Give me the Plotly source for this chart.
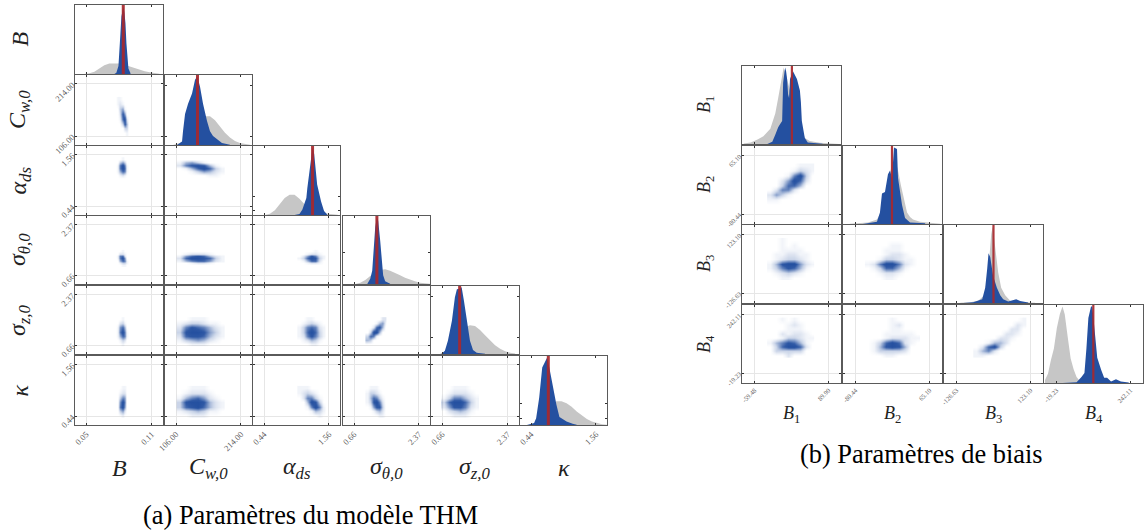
import plotly.graph_objects as go

W, H = 1146, 531
BLUE = "#2450A0"
GRAY = "#C6C6C6"
RED = "rgba(168,40,45,0.92)"
FRAME = "#5A5A5A"
GRID = "#E6E6E6"
CS = [[0, "rgba(36,80,160,0)"], [0.11, "rgba(36,80,160,0.06)"], [0.33, "rgba(36,80,160,0.24)"],
      [0.66, "rgba(36,80,160,0.70)"], [0.85, "rgba(36,80,160,0.95)"], [1, "rgba(36,80,160,1)"]]

# ---------- THM model parameters ----------
thm_names = ["<i>B</i>", "<i>C</i><sub><i>w,0</i></sub>", "<i>α</i><sub><i>ds</i></sub>",
             "<i>σ</i><sub><i>θ,0</i></sub>", "<i>σ</i><sub><i>z,0</i></sub>", "<i>κ</i>"]
thm_ticks = [(0.05, 0.11), (106.0, 214.0), (0.44, 1.56), (0.66, 2.37), (0.66, 2.37), (0.44, 1.56)]
thm_true = [0.0839, 141.7, 1.277, 1.262, 1.115, 0.738]
thm_diag_yticks = [[], [0.13, 0.87], [0.07, 0.27], [0.13, 0.47], [0.25, 0.87], [0.10, 0.32]]

prior_x_B = [.048, .053, .0575, .062, .0666, .0712, .0758, .0804, .085, .0897, .0943, .0989, .1035, .108, .1127, .117]
prior_y_B = [0, .01, .035, .08, .13, .155, .16, .155, .135, .11, .085, .06, .04, .025, .012, .004]
post_x_B = [.0758, .0776, .0795, .0804, .0813, .0822, .0831, .084, .085, .0859, .0868, .0877, .0886, .0905]
post_y_B = [0, .02, .12, .3, .6, .85, .97, 1, .9, .75, .45, .2, .08, .01]

prior_x_Cw = [101, 112.6, 124.3, 134.2, 144.2, 154.2, 162.5, 170.8, 179.1, 187.4, 195.7, 204, 212.3, 220.6, 229]
prior_y_Cw = [0, .03, .1, .22, .34, .42, .42, .36, .27, .18, .11, .06, .03, .012, .003]
post_x_Cw = [107.7, 116, 117.6, 121, 126, 132.6, 137.6, 141.4, 145.9, 150.9, 157.5, 162.5, 167.5, 174.1, 182.4, 195.7]
post_y_Cw = [0, .05, .2, .45, .6, .75, .95, 1, .85, .6, .35, .2, .13, .09, .03, .005]

prior_x_a = [.457, .542, .627, .712, .796, .881, .966, 1.051, 1.136, 1.221, 1.305, 1.39, 1.475, 1.56, 1.645, 1.713]
prior_y_a = [0, .02, .07, .16, .25, .3, .3, .24, .16, .08, .04, .03, .025, .015, .006, .002]
post_x_a = [.966, 1.051, 1.102, 1.17, 1.187, 1.221, 1.255, 1.277, 1.305, 1.339, 1.356, 1.424, 1.475, 1.526]
post_y_a = [0, .015, .08, .25, .4, .65, .9, 1, .9, .65, .45, .2, .06, .01]

prior_x_st = [.694, .825, .956, 1.087, 1.218, 1.349, 1.48, 1.611, 1.742, 1.873, 2.003, 2.134, 2.265, 2.396, 2.527, 2.658]
prior_y_st = [0, .02, .06, .12, .18, .21, .22, .2, .17, .13, .095, .065, .04, .02, .01, .003]
post_x_st = [1.008, 1.087, 1.139, 1.165, 1.218, 1.262, 1.296, 1.349, 1.401, 1.427, 1.48, 1.611]
post_y_st = [0, .08, .2, .45, .85, 1, .95, .65, .3, .13, .04, .005]

prior_x_sz = [.6, .731, .861, .992, 1.123, 1.254, 1.384, 1.515, 1.646, 1.777, 1.907, 2.038, 2.169, 2.3, 2.43, 2.561]
prior_y_sz = [0, .04, .12, .23, .33, .4, .43, .42, .36, .28, .2, .13, .08, .04, .02, .006]
post_x_sz = [.644, .731, .809, .914, .992, 1.044, 1.105, 1.167, 1.227, 1.298, 1.384, 1.463, 1.56, 1.777]
post_y_sz = [0, .05, .2, .5, .85, .97, .98, 1, .8, .5, .2, .06, .02, .005]

prior_x_k = [.44, .528, .615, .703, .79, .878, .965, 1.053, 1.14, 1.228, 1.315, 1.403, 1.49, 1.578, 1.665, 1.753]
prior_y_k = [0, .03, .1, .2, .3, .35, .35, .32, .27, .2, .14, .09, .05, .03, .012, .004]
post_x_k = [.37, .493, .528, .58, .633, .703, .72, .755, .808, .878, .93, 1.053, 1.158, 1.228]
post_y_k = [0, .03, .1, .4, .85, .97, 1, .85, .6, .3, .12, .05, .02, .003]

thm_prior = [(prior_x_B, prior_y_B), (prior_x_Cw, prior_y_Cw), (prior_x_a, prior_y_a),
             (prior_x_st, prior_y_st), (prior_x_sz, prior_y_sz), (prior_x_k, prior_y_k)]
thm_post = [(post_x_B, post_y_B), (post_x_Cw, post_y_Cw), (post_x_a, post_y_a),
            (post_x_st, post_y_st), (post_x_sz, post_y_sz), (post_x_k, post_y_k)]

grid_B = [.077, .079, .081, .083, .085, .087, .089]
grid_Cw = [112, 122, 132, 142, 152, 162, 172, 182]
grid_a = [1.05, 1.12, 1.19, 1.26, 1.33, 1.40, 1.47]
grid_st = [1.0, 1.08, 1.16, 1.24, 1.32, 1.40, 1.48]
grid_sz = [.7, .84, .98, 1.12, 1.26, 1.4, 1.54]
grid_k = [.45, .55, .65, .75, .85, .95, 1.05]
thm_grids = [grid_B, grid_Cw, grid_a, grid_st, grid_sz, grid_k]

# density grids: key (row parameter, column parameter); rows run from low to high values
thm_density = {
    (1, 0): [[0,0,0,0,0,1,0],[0,0,0,0,3,3,0],[0,0,0,3,8,4,0],[0,0,1,7,9,2,0],
             [0,0,2,8,5,0,0],[0,0,3,5,1,0,0],[0,1,2,1,0,0,0],[0,1,1,0,0,0,0]],
    (2, 0): [[0,0,0,0,0,0,0],[0,0,1,2,1,0,0],[0,1,4,7,6,1,0],[0,1,6,9,7,1,0],
             [0,1,6,9,6,1,0],[0,0,3,5,3,0,0],[0,0,0,1,0,0,0]],
    (2, 1): [[0,0,0,0,0,0,0,0],[0,0,0,0,0,1,1,0],[0,0,1,3,5,4,2,1],[0,1,4,7,9,7,3,1],
             [2,6,8,9,8,4,1,0],[1,4,5,3,1,0,0,0],[0,0,0,0,0,0,0,0]],
    (3, 0): [[0,0,0,1,1,0,0],[0,0,1,3,3,1,0],[0,0,4,7,6,1,0],[0,1,6,9,5,0,0],
             [0,1,6,7,2,0,0],[0,0,2,2,1,0,0],[0,0,0,1,0,0,0]],
    (3, 1): [[0,0,0,0,0,0,0,0],[0,0,1,2,2,1,0,0],[1,4,6,7,7,5,2,1],[2,7,9,9,8,7,3,1],
             [1,5,7,8,7,4,2,1],[0,1,2,2,2,1,0,0],[0,0,0,0,0,0,0,0]],
    (3, 2): [[0,0,0,0,0,0,0],[0,0,1,2,2,1,0],[0,1,4,7,7,2,0],[1,3,7,9,8,3,1],
             [0,2,5,8,6,2,1],[0,0,1,2,2,1,0],[0,0,0,0,1,0,0]],
    (4, 0): [[0,0,0,1,0,0,0],[0,0,1,3,2,0,0],[0,1,4,7,6,1,0],[0,1,6,9,6,1,0],
             [0,1,5,7,4,0,0],[0,0,2,3,1,0,0],[0,0,0,1,0,0,0]],
    (4, 1): [[0,0,1,1,1,0,0,0],[1,3,4,5,4,2,1,0],[2,7,8,8,7,4,2,1],[3,8,9,9,8,5,3,1],
             [2,6,8,7,6,4,2,1],[1,2,3,3,2,1,1,0],[0,0,1,1,1,0,0,0]],
    (4, 2): [[0,0,0,1,1,0,0],[0,1,2,4,3,1,0],[1,2,6,8,6,3,1],[1,3,7,9,7,3,1],
             [1,3,6,7,6,2,1],[0,1,2,3,2,1,0],[0,0,1,1,0,0,0]],
    (4, 3): [[0,0,0,0,0,0,0],[4,3,0,0,0,0,0],[3,7,6,1,0,0,0],[0,3,9,9,4,0,0],
             [0,0,2,7,8,4,0],[0,0,0,1,4,5,1],[0,0,0,0,0,2,2]],
    (5, 0): [[0,0,0,1,0,0,0],[0,0,3,5,2,0,0],[0,0,6,9,5,0,0],[0,0,5,9,6,0,0],
             [0,0,3,6,5,0,0],[0,0,1,2,2,0,0],[0,0,0,1,1,0,0]],
    (5, 1): [[0,0,1,1,1,0,0,0],[1,2,3,4,3,1,1,0],[3,7,8,9,7,4,2,1],[3,8,9,9,8,4,2,1],
             [1,4,6,7,5,2,1,0],[0,1,2,2,2,1,0,0],[0,0,1,1,1,0,0,0]],
    (5, 2): [[0,0,0,0,0,1,0],[0,0,0,1,4,3,1],[0,0,1,6,9,6,1],[0,0,4,9,8,3,0],
             [0,2,6,6,3,1,0],[1,2,3,2,1,0,0],[1,1,1,0,0,0,0]],
    (5, 3): [[0,0,0,0,1,1,0],[0,0,1,3,4,2,0],[0,1,5,8,8,3,0],[1,3,8,9,6,2,0],
             [1,4,7,6,3,1,0],[1,3,3,2,1,0,0],[0,1,1,1,0,0,0]],
    (5, 4): [[0,0,1,1,1,0,0],[0,2,3,4,3,1,0],[2,5,8,8,6,2,1],[3,7,9,9,7,3,1],
             [1,3,6,6,4,2,1],[0,1,2,2,2,1,0],[0,0,1,1,1,0,0]],
}

# ---------- Bias parameters ----------
bias_names = ["<i>B</i><sub>1</sub>", "<i>B</i><sub>2</sub>", "<i>B</i><sub>3</sub>", "<i>B</i><sub>4</sub>"]
bias_ticks = [(-59.48, 89.90), (-80.44, 65.10), (-126.63, 123.10), (-19.23, 242.11)]
bias_true = [16.0, -8.7, -1.8, 110.8]
bias_diag_yticks = [[], [], [], []]

prior_x_B1 = [-81.4, -67.4, -53.5, -41.6, -27.6, -17.6, -11.7, -3.7, -0.7, 6.3, 12.2, 22.2, 32.2, 42.1, 52.1, 72, 91.9, 111.8]
prior_y_B1 = [.005, .02, .06, .1, .2, .4, .6, .9, 1, .85, .7, .5, .25, .08, .04, .015, .005, .001]
post_x_B1 = [-33.6, -23.6, -17.6, -11.7, -7.7, -3.7, -1.7, 2.3, 4.3, 6.3, 8.3, 10.3, 12.2, 18.2, 26.2, 32.2, 34.2, 36.1, 42.1, 48.1, 78]
post_y_B1 = [0, .03, .12, .22, .26, .3, .8, 1, .95, .85, .65, .6, .85, .95, .85, .7, .55, .3, .08, .02, .003]

prior_x_B2 = [-91.7, -71.9, -56.1, -38.3, -26.5, -16.6, -8.7, -2.7, 3.2, 9.1, 13.1, 17, 21, 26.9, 32.8, 46.7, 60.5, 86.2]
prior_y_B2 = [.002, .01, .02, .06, .2, .5, .8, .85, .7, .5, .38, .25, .15, .09, .06, .03, .02, .004]
post_x_B2 = [-66, -38.3, -32.4, -28.4, -22.5, -16.6, -12.6, -8.7, -4.7, 1.2, 3.2, 11.1, 17, 26.9, 56.6]
post_y_B2 = [0, .03, .15, .4, .42, .65, .7, .6, 1, .98, .6, .25, .08, .02, .01]

prior_x_B3 = [-114.1, -80.4, -53.4, -33.1, -19.6, -9.5, -4.4, 4, 14.1, 24.2, 37.7, 54.6, 88.4, 139]
prior_y_B3 = [.003, .01, .03, .1, .4, .9, 1, .75, .4, .2, .1, .03, .01, .002]
post_x_B3 = [-104, -70.3, -39.9, -29.8, -23, -18.6, -12.9, -7.2, -2.8, 9.7, 21, 31, 47.9, 74.9, 88.4, 115.4]
post_y_B3 = [0, .01, .05, .2, .45, .65, .6, .45, .35, .2, .1, .05, .02, .05, .025, .005]

prior_x_B4 = [-60, -49.6, -39.1, -28.6, -18.2, -7.7, 1.7, 9.7, 20.2, 30.6, 41.1, 51.5, 62, 75.9]
prior_y_B4 = [.04, .12, .3, .45, .72, .9, 1, .9, .6, .32, .18, .08, .03, .01]
post_x_B4 = [2.7, 51.5, 68.9, 79.4, 86.4, 93.3, 102.7, 107.3, 117.7, 124.7, 138.7, 149.1, 159.6, 173.5, 190.9, 208.3, 236.2]
post_y_B4 = [0, .01, .08, .13, .45, .85, 1, 1, .6, .33, .17, .07, .07, .02, .05, .02, .005]

bias_prior = [(prior_x_B1, prior_y_B1), (prior_x_B2, prior_y_B2), (prior_x_B3, prior_y_B3), (prior_x_B4, prior_y_B4)]
bias_post = [(post_x_B1, post_y_B1), (post_x_B2, post_y_B2), (post_x_B3, post_y_B3), (post_x_B4, post_y_B4)]

grid_B1 = [-28, -16, -4, 8, 20, 32, 44, 56]
grid_B2 = [-56, -44, -32, -20, -8, 4, 16, 28, 40]
grid_B3 = [-60, -40, -20, 0, 20, 40, 60, 80, 100]
grid_B4 = [60, 80, 100, 120, 140, 160, 180, 200, 220]
bias_grids = [grid_B1, grid_B2, grid_B3, grid_B4]

bias_density = {
    (1, 0): [[0,0,0,0,0,0,0,0],[1,1,0,0,0,0,0,0],[2,5,3,1,0,0,0,0],[0,2,6,6,2,0,0,0],[0,0,3,7,7,4,0,0],
             [0,0,2,5,9,7,2,0],[0,0,0,1,6,9,3,0],[0,0,0,0,1,3,2,1],[0,0,0,0,0,1,1,1]],
    (2, 0): [[0,0,1,1,0,0,0,0],[0,1,2,3,2,1,0,0],[1,3,6,8,7,4,1,0],[1,4,8,9,9,5,2,1],[0,1,2,3,3,2,1,0],
             [0,1,1,2,2,1,1,0],[0,0,1,1,1,1,0,0],[0,0,1,0,1,0,0,0],[0,0,1,0,0,0,0,0]],
    (2, 1): [[0,0,0,1,1,0,0,0,0],[0,0,1,2,2,1,0,0,0],[0,1,3,7,7,4,1,0,0],[1,2,6,9,9,6,2,1,0],[0,0,1,3,3,2,1,1,0],
             [0,0,0,1,2,2,1,0,0],[0,0,0,1,1,1,0,0,0],[0,0,0,0,1,1,0,0,0],[0,0,0,0,0,0,0,0,0]],
    (3, 0): [[0,0,0,2,0,0,0,0],[0,3,3,3,3,3,0,0],[0,3,7,9,9,7,2,0],[1,4,6,8,7,4,1,0],[0,0,1,3,3,2,1,1],
             [0,0,2,1,2,2,1,0],[0,0,0,1,1,1,0,0],[0,0,0,1,2,1,0,0],[0,0,1,0,1,0,0,0]],
    (3, 1): [[0,0,0,1,1,0,0,0,0],[0,1,3,3,3,3,2,0,0],[0,1,4,8,9,8,4,0,0],[0,1,3,7,9,7,2,1,0],[0,0,0,1,2,2,2,1,1],
             [0,0,0,1,1,1,1,1,0],[0,0,0,0,1,1,0,0,0],[0,0,0,0,1,2,0,0,0],[0,0,0,0,1,0,0,0,0]],
    (3, 2): [[1,1,0,0,0,0,0,0,0],[1,4,6,2,0,0,0,0,0],[0,2,7,9,3,0,0,0,0],[0,0,1,4,4,2,0,0,0],[0,0,0,0,2,2,1,0,0],
             [0,0,0,0,0,2,2,1,0],[0,0,0,0,0,0,2,2,0],[0,0,0,0,0,0,0,2,1],[0,0,0,0,0,0,0,0,1]],
}

# ---------- panel pixel edges ----------
thm_xe = [(75, 163), (165, 252), (253, 340), (343, 430), (431, 519), (520, 607)]
thm_ye = [(5, 74), (75, 145), (146, 215), (216, 284), (286, 354), (356, 425)]
bias_xe = [(742, 841), (843, 942), (944, 1043), (1044, 1143)]
bias_ye = [(66, 144), (146, 224), (225, 303), (305, 383)]

fig = go.Figure()
counter = [0]


def extended(lo, hi, pad=0.17):
    d = (hi - lo) * pad
    return [lo - d, hi + d]


def add_panel(box, xtick, ytick, show_x, show_y, grid, yticks, tick_size, line_w):
    counter[0] += 1
    n = counter[0]
    xname = "xaxis" if n == 1 else f"xaxis{n}"
    yname = "yaxis" if n == 1 else f"yaxis{n}"
    suf = "" if n == 1 else str(n)
    x0, x1 = box[0]
    y0, y1 = box[1]
    fnt = dict(family="Liberation Serif", size=tick_size, color="#5A5A5A")
    common = dict(tickmode="array", tickangle=-45, tickfont=fnt, ticks="inside", ticklen=2, tickwidth=1,
                  tickcolor="#333333", showline=True, mirror="allticks", linecolor=FRAME, linewidth=line_w,
                  showgrid=grid, gridcolor=GRID, gridwidth=1.2, zeroline=False, fixedrange=True,
                  automargin=False)
    fig.layout[xname] = dict(domain=[x0 / W, x1 / W], anchor=f"y{suf}", range=extended(*xtick),
                             tickvals=list(xtick), ticktext=[f"{v:.2f}" for v in xtick],
                             showticklabels=show_x, **common)
    ytv = list(ytick) if ytick else yticks
    fig.layout[yname] = dict(domain=[1 - y1 / H, 1 - y0 / H], anchor=f"x{suf}",
                             range=extended(*ytick) if ytick else [0, 1.02],
                             tickvals=ytv, ticktext=[f"{v:.2f}" for v in ytv],
                             showticklabels=show_y, **common)
    return f"x{suf}", f"y{suf}"


def corner(names, ticks, true, prior, post, grids, density, xe, ye, dticks, tick_size, red_w, line_w):
    m = len(names)
    for r in range(m):
        for c in range(r + 1):
            box = (xe[c], ye[r])
            if r == c:
                xa, ya = add_panel(box, ticks[c], None, r == m - 1, False, False, dticks[r], tick_size, line_w)
                fig.add_trace(go.Scatter(x=prior[r][0], y=prior[r][1], mode="lines", line=dict(width=0),
                                         fill="tozeroy", fillcolor=GRAY, xaxis=xa, yaxis=ya, hoverinfo="skip"))
                fig.add_trace(go.Scatter(x=post[r][0], y=post[r][1], mode="lines", line=dict(width=0),
                                         fill="tozeroy", fillcolor=BLUE, xaxis=xa, yaxis=ya, hoverinfo="skip"))
                fig.add_trace(go.Scatter(x=[true[r], true[r]], y=[0, 1.02], mode="lines",
                                         line=dict(color=RED, width=red_w), xaxis=xa, yaxis=ya, hoverinfo="skip"))
            else:
                xa, ya = add_panel(box, ticks[c], ticks[r], r == m - 1, c == 0, True, None, tick_size, line_w)
                fig.add_trace(go.Heatmap(x=grids[c], y=grids[r], z=density[(r, c)], zmin=0, zmax=9,
                                         colorscale=CS, showscale=False, zsmooth="best",
                                         xaxis=xa, yaxis=ya, hoverinfo="skip"))


corner(thm_names, thm_ticks, thm_true, thm_prior, thm_post, thm_grids, thm_density,
       thm_xe, thm_ye, thm_diag_yticks, 8.5, 3, 1.3)
corner(bias_names, bias_ticks, bias_true, bias_prior, bias_post, bias_grids, bias_density,
       bias_xe, bias_ye, bias_diag_yticks, 6.5, 2.2, 1.3)


def text(x, y, s, size, angle=0, color="#222222"):
    fig.add_annotation(x=x / W, y=1 - y / H, xref="paper", yref="paper", text=s, showarrow=False,
                       font=dict(family="Liberation Serif", size=size, color=color),
                       textangle=angle, xanchor="center", yanchor="middle")


for i, nm in enumerate(thm_names):
    text(sum(thm_xe[i]) / 2, 468, nm, 24)
    text(19, sum(thm_ye[i]) / 2, nm, 24, -90)
for i, nm in enumerate(bias_names):
    text(sum(bias_xe[i]) / 2, 414, nm, 18)
    text(705, sum(bias_ye[i]) / 2, nm, 18, -90)

text(310, 515, "(a) Paramètres du modèle THM", 26.4, color="#000000")
text(921, 454, "(b) Paramètres de biais", 26.4, color="#000000")

fig.update_layout(width=W, height=H, margin=dict(l=0, r=0, t=0, b=0), showlegend=False,
                  plot_bgcolor="white", paper_bgcolor="white")
fig.write_html("out.html", config=dict(displayModeBar=False),
               post_script="document.body.style.margin='0';document.body.style.overflow='hidden';")
